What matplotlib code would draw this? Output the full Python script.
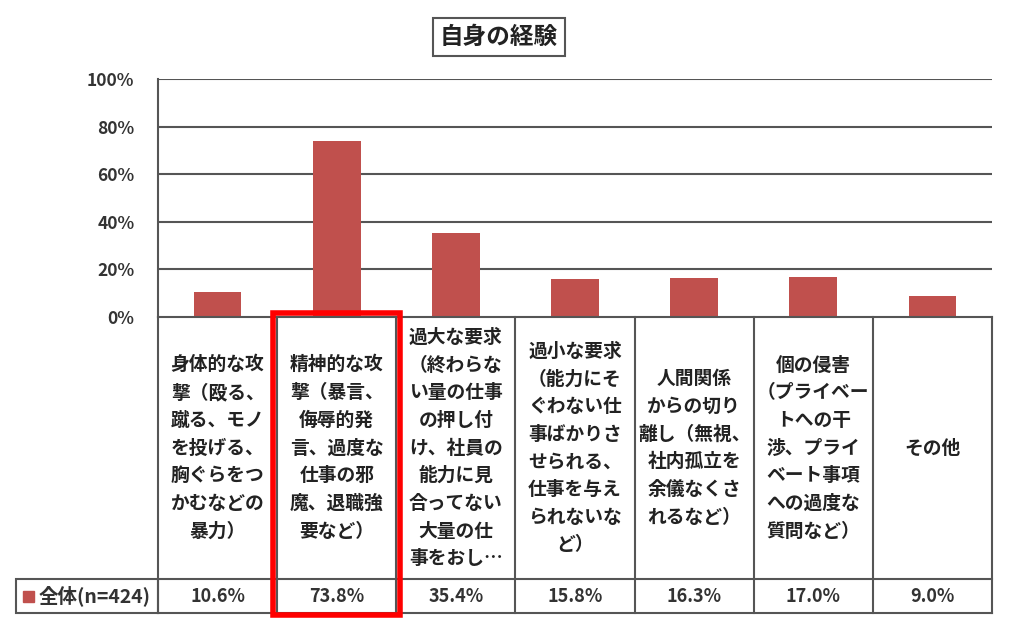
import matplotlib.pyplot as plt
from matplotlib.patches import Rectangle

plt.rcParams['font.family'] = ['Noto Sans CJK JP', 'DejaVu Sans']

title = "自身の経験"
categories = [
    "身体的な攻\n撃（殴る、\n蹴る、モノ\nを投げる、\n胸ぐらをつ\nかむなどの\n暴力）",
    "精神的な攻\n撃（暴言、\n侮辱的発\n言、過度な\n仕事の邪\n魔、退職強\n要など）",
    "過大な要求\n（終わらな\nい量の仕事\nの押し付\nけ、社員の\n能力に見\n合ってない\n大量の仕\n事をおし…",
    "過小な要求\n（能力にそ\nぐわない仕\n事ばかりさ\nせられる、\n仕事を与え\nられないな\nど）",
    "人間関係\nからの切り\n離し（無視、\n社内孤立を\n余儀なくさ\nれるなど）",
    "個の侵害\n（プライベー\nトへの干\n渉、プライ\nベート事項\nへの過度な\n質問など）",
    "その他",
]
values = [10.6, 73.8, 35.4, 15.8, 16.3, 17.0, 9.0]
series_name = "全体(n=424)"
yticks = [0, 20, 40, 60, 80, 100]
highlight = 1

W, H = 1024, 638
BAR = "#C0504D"
LINE = "#555555"

fig = plt.figure(figsize=(W / 100, H / 100), dpi=100)

def box(l, t, r, b):
    return [l / W, 1 - b / H, (r - l) / W, (b - t) / H]

# bar chart
ax = fig.add_axes(box(158, 79, 992, 317))
n = len(values)
x = list(range(n))
ax.bar(x, values, width=0.4, color=BAR, zorder=3)
ax.set_xlim(-0.5, n - 0.5)
ax.set_ylim(0, 100)
ax.set_yticks(yticks)
ax.set_yticklabels([f"{t}%" for t in yticks], fontsize=12.5, fontweight="bold", color="#333333")
ax.set_xticks([])
ax.tick_params(axis="y", length=0, pad=17)
for t in yticks[1:]:
    ax.axhline(t, color=LINE, lw=1.5, zorder=1)
for s in ["top", "right", "bottom"]:
    ax.spines[s].set_visible(False)
ax.spines["left"].set_color(LINE)
ax.spines["left"].set_linewidth(1.5)

# data table under the chart
tab = fig.add_axes(box(158, 317, 992, 613))
tab.set_xlim(-0.5, n - 0.5)
tab.set_ylim(0, 1)
tab.axis("off")
split = 34 / 296
kw = dict(color=LINE, lw=1.5, clip_on=False)
tab.plot([-0.5, n - 0.5], [1, 1], **kw)
tab.plot([-0.5, n - 0.5], [split, split], **kw)
tab.plot([-0.5, n - 0.5], [0, 0], **kw)
for i in range(n + 1):
    tab.plot([i - 0.5, i - 0.5], [0, 1], **kw)
for i, (c, v) in enumerate(zip(categories, values)):
    tab.text(i, (1 + split) / 2, c, ha="center", va="center", fontsize=13.5,
             fontweight="bold", linespacing=1.58, color="#222222")
    tab.text(i, split / 2, f"{v:.1f}%", ha="center", va="center", fontsize=13,
             fontweight="bold", color="#333333")

# legend cell on the left
fig.add_artist(Rectangle((16 / W, 1 - 613 / H), (158 - 16) / W, 34 / H,
                         transform=fig.transFigure, fill=False, ec=LINE, lw=1.5))
fig.add_artist(Rectangle((23 / W, 1 - 602 / H), 11 / W, 11 / H,
                         transform=fig.transFigure, color=BAR))
fig.text(39 / W, 1 - 596 / H, series_name, ha="left", va="center", fontsize=14,
         fontweight="bold", color="#333333")

# red highlight box
col_w = (992 - 158) / n
hl = 158 + col_w * highlight - 4
fig.add_artist(Rectangle((hl / W, 1 - 615 / H), (col_w + 8) / W, (615 - 313) / H,
                         transform=fig.transFigure, fill=False, ec="#FF0000", lw=4, zorder=10))

# title
fig.text(499 / W, 1 - 37 / H, title, ha="center", va="center", fontsize=17,
         fontweight="bold", color="#222222",
         bbox=dict(boxstyle="square,pad=0.3", fc="white", ec=LINE, lw=1.5))

fig.savefig("out.png", dpi=100)
